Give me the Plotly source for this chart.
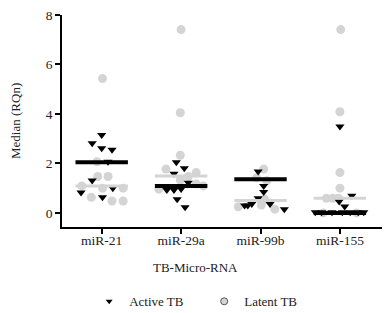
import plotly.graph_objects as go

categories = ["miR-21", "miR-29a", "miR-99b", "miR-155"]

# Active TB values per category (RQn) and horizontal scatter offsets (category units)
active_values = [
    [3.15, 2.82, 2.61, 2.55, 2.07, 1.31, 1.00, 0.82, 0.63],
    [2.05, 1.80, 1.58, 1.22, 0.93, 0.93, 0.97, 0.55, 0.23],
    [1.67, 1.09, 0.84, 0.59, 0.30, 0.30, 0.36, 0.36, 0.15],
    [3.49, 0.69, 0.46, 0.26, 0.03, 0.03, 0.03, 0.03, 0.03, 0.03, 0.03],
]
active_spread = [
    [0.0, -0.12, 0.0, 0.13, 0.08, -0.12, 0.14, -0.26, 0.01],
    [-0.06, 0.04, -0.09, 0.09, -0.18, -0.09, 0.0, -0.05, 0.05],
    [-0.03, 0.04, 0.04, -0.03, -0.20, -0.16, -0.11, 0.12, 0.30],
    [0.0, 0.15, -0.01, 0.06, -0.31, -0.23, -0.10, 0.03, 0.13, 0.23, 0.30],
]

# Latent TB values per category (RQn) and horizontal scatter offsets
latent_values = [
    [5.43, 2.07, 1.47, 1.47, 1.09, 1.00, 1.00, 0.63, 0.48, 0.48],
    [7.41, 4.05, 2.33, 1.77, 1.63, 1.47, 1.33, 0.96, 1.17, 1.09],
    [1.77, 1.42, 1.30, 0.55, 0.25, 0.32, 0.15],
    [7.41, 4.09, 1.63, 1.00, 0.59, 0.59, 0.59, 0.0, 0.0],
]
latent_spread = [
    [0.01, -0.06, -0.05, 0.08, -0.25, 0.01, 0.27, -0.13, 0.13, 0.27],
    [0.0, -0.01, -0.01, -0.19, 0.19, 0.09, -0.01, -0.28, 0.19, 0.28],
    [0.04, -0.05, 0.08, 0.05, -0.28, 0.01, 0.18],
    [0.01, 0.0, 0.0, 0.0, -0.17, -0.09, -0.02, -0.21, 0.21],
]

active_median = [2.05, 1.09, 1.36, 0.0]
latent_median = [1.09, 1.49, 0.50, 0.59]

y_ticks = [0, 2, 4, 6, 8]

FONT = "Liberation Serif"
GRAY = "#d4d4d4"
TEXT = "#222222"
HALF = 0.33

fig = go.Figure()

lx, ly = [], []
for i, (vals, offs) in enumerate(zip(latent_values, latent_spread)):
    lx += [i + o for o in offs]
    ly += vals
fig.add_trace(go.Scatter(
    x=lx, y=ly, mode="markers", name="Latent TB",
    marker=dict(symbol="circle", size=9, color=GRAY, line=dict(width=0)),
    showlegend=False,
))

ax, ay = [], []
for i, (vals, offs) in enumerate(zip(active_values, active_spread)):
    ax += [i + o for o in offs]
    ay += vals
fig.add_trace(go.Scatter(
    x=ax, y=ay, mode="markers", name="Active TB",
    marker=dict(symbol="triangle-down", size=8, color="black", line=dict(width=0)),
    showlegend=False,
))

for i, m in enumerate(latent_median):
    fig.add_trace(go.Scatter(x=[i - HALF, i + HALF], y=[m, m], mode="lines",
                             line=dict(color=GRAY, width=3), showlegend=False,
                             hoverinfo="skip"))
for i, m in enumerate(active_median):
    fig.add_trace(go.Scatter(x=[i - HALF, i + HALF], y=[m, m], mode="lines",
                             line=dict(color="black", width=4), showlegend=False,
                             hoverinfo="skip"))

# legend entries
fig.add_trace(go.Scatter(x=[None], y=[None], mode="markers", name="Active TB",
                         marker=dict(symbol="triangle-down", size=6, color="black")))
fig.add_trace(go.Scatter(x=[None], y=[None], mode="markers", name="Latent TB",
                         marker=dict(symbol="circle", size=7, color=GRAY,
                                     line=dict(color="#555555", width=1))))

fig.update_layout(
    width=382, height=305,
    margin=dict(l=54, r=8, t=7, b=86, autoexpand=False),
    paper_bgcolor="white", plot_bgcolor="white",
    font=dict(family=FONT, size=13, color=TEXT),
    showlegend=True,
    legend=dict(orientation="h", x=0.085, y=-0.28, xanchor="left", yanchor="top",
                font=dict(family=FONT, size=13, color=TEXT),
                entrywidth=70, entrywidthmode="pixels",
                tracegroupgap=0, bgcolor="rgba(0,0,0,0)"),
    xaxis=dict(range=[-0.5, 3.53], tickmode="array", tickvals=list(range(len(categories))),
               ticktext=categories, showgrid=False, zeroline=False,
               showline=True, linecolor="black", linewidth=1.5,
               ticks="outside", ticklen=5, tickcolor="black", tickwidth=1.5,
               tickfont=dict(size=13.5), ticklabelstandoff=-5, ticklabeloverflow="allow"),
    yaxis=dict(range=[-0.57, 8], tickmode="array", tickvals=y_ticks,
               ticktext=[str(t) for t in y_ticks], showgrid=False, zeroline=False,
               showline=True, linecolor="black", linewidth=1.5,
               ticks="outside", ticklen=5, tickcolor="black", tickwidth=1.5,
               tickfont=dict(size=13.5), ticklabeloverflow="allow"),
    annotations=[
        dict(text="Median (RQn)", textangle=-90, xref="paper", yref="paper",
             x=-0.147, y=0.5, xanchor="center", yanchor="middle", showarrow=False,
             font=dict(family=FONT, size=13, color=TEXT)),
        dict(text="TB-Micro-RNA", xref="paper", yref="paper",
             x=0.416, y=-0.193, xanchor="center", yanchor="middle", showarrow=False,
             font=dict(family=FONT, size=13, color=TEXT)),
    ],
)

fig.write_html("out.html")
